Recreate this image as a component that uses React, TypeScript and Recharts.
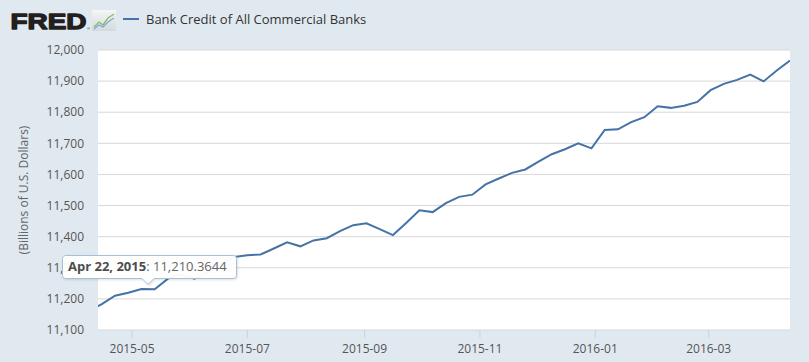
import React from 'react';
import { LineChart, Line, XAxis, YAxis, CartesianGrid, Tooltip } from 'recharts';

// weekly (Wednesday) observations, billions of U.S. dollars
const weekDates = [
  '2015-04-08', '2015-04-15', '2015-04-22', '2015-04-29', '2015-05-06', '2015-05-13',
  '2015-05-20', '2015-05-27', '2015-06-03', '2015-06-10', '2015-06-17', '2015-06-24',
  '2015-07-01', '2015-07-08', '2015-07-15', '2015-07-22', '2015-07-29', '2015-08-05',
  '2015-08-12', '2015-08-19', '2015-08-26', '2015-09-02', '2015-09-09', '2015-09-16',
  '2015-09-23', '2015-09-30', '2015-10-07', '2015-10-14', '2015-10-21', '2015-10-28',
  '2015-11-04', '2015-11-11', '2015-11-18', '2015-11-25', '2015-12-02', '2015-12-09',
  '2015-12-16', '2015-12-23', '2015-12-30', '2016-01-06', '2016-01-13', '2016-01-20',
  '2016-01-27', '2016-02-03', '2016-02-10', '2016-02-17', '2016-02-24', '2016-03-02',
  '2016-03-09', '2016-03-16', '2016-03-23', '2016-03-30', '2016-04-06', '2016-04-13',
];

const bankCredit = [
  11160, 11183, 11210.3644, 11220, 11232, 11231,
  11265, 11278, 11265, 11285, 11310, 11335,
  11340, 11343, 11362, 11382, 11369, 11388,
  11395, 11418, 11437, 11443, 11424, 11405,
  11444, 11485, 11479, 11508, 11528, 11535,
  11568, 11587, 11605, 11616, 11641, 11665,
  11681, 11700, 11684, 11743, 11745, 11768,
  11784, 11819, 11814, 11821, 11833, 11871,
  11891, 11904, 11921, 11899, 11934, 11966,
];

const xRange = ['2015-04-13', '2016-04-13'];
const xTickMonths = ['2015-05', '2015-07', '2015-09', '2015-11', '2016-01', '2016-03'];
const yTicks = [11100, 11200, 11300, 11400, 11500, 11600, 11700, 11800, 11900, 12000];

const hoverDate = '2015-04-22';

const MONTHS = ['Jan', 'Feb', 'Mar', 'Apr', 'May', 'Jun', 'Jul', 'Aug', 'Sep', 'Oct', 'Nov', 'Dec'];

const toTime = (s: string) => {
  const [y, m, d] = s.split('-').map(Number);
  return Date.UTC(y, m - 1, d || 1);
};

const data = weekDates.map((d, i) => ({ t: toTime(d), value: bankCredit[i] }));
const tipIndex = weekDates.indexOf(hoverDate);

const fmtMonth = (t: number) => {
  const d = new Date(t);
  return `${d.getUTCFullYear()}-${String(d.getUTCMonth() + 1).padStart(2, '0')}`;
};

const fmtDay = (t: number) => {
  const d = new Date(t);
  return `${MONTHS[d.getUTCMonth()]} ${d.getUTCDate()}, ${d.getUTCFullYear()}`;
};

const FONT = '"Open Sans", Arial, sans-serif';
const BG = '#e1e9f0';
const SERIES = '#4572a7';

const TipBox = (props: any) => {
  const p = props.payload && props.payload.length ? props.payload[0].payload : data[tipIndex];
  const val = p.value.toLocaleString('en-US', { minimumFractionDigits: 4, maximumFractionDigits: 4 });
  return (
    <svg width={178} height={34} style={{ overflow: 'visible', display: 'block' }}>
      <path
        d="M3.5 0.5 H171.5 Q174.5 0.5 174.5 3.5 V20.5 Q174.5 23.5 171.5 23.5 H92 L86 29.5 L80 23.5 H3.5 Q0.5 23.5 0.5 20.5 V3.5 Q0.5 0.5 3.5 0.5 Z"
        fill="rgba(255,255,255,0.96)"
        stroke="#a9bfd8"
        strokeWidth={1}
        style={{ filter: 'drop-shadow(1px 1px 1px rgba(0,0,0,0.12))' }}
      />
      <text x={6} y={16} fontFamily={FONT} fontSize={13}>
        <tspan fontWeight={700} fill="#4d4d4d">{fmtDay(p.t)}</tspan>
        <tspan fill="#666">: {val}</tspan>
      </text>
    </svg>
  );
};

export default function App() {
  return (
    <div style={{ position: 'relative', width: 809, height: 362, background: BG, fontFamily: FONT }}>
      <style>{'body{margin:0}'}</style>
      <svg width={809} height={44} style={{ position: 'absolute', left: 0, top: 0 }}>
        <defs>
          <linearGradient id="icon-bg" x1="0" y1="0" x2="0" y2="1">
            <stop offset="0" stopColor="#f4f6f7" />
            <stop offset="1" stopColor="#d3d9dd" />
          </linearGradient>
        </defs>
        <text
          x={10.5}
          y={28.5}
          fontFamily='"Liberation Sans", Arial, sans-serif'
          fontWeight={700}
          fontSize={22}
          textLength={76}
          lengthAdjust="spacingAndGlyphs"
          fill="#231f20"
          stroke="#231f20"
          strokeWidth={1.3}
          strokeLinejoin="round"
        >
          FRED
        </text>
        <text x={87} y={30} fontSize={4} fontFamily="Arial" fill="#231f20">®</text>
        <rect x={92} y={10} width={24} height={21} fill="url(#icon-bg)" />
        <polyline points="94,27 99,22 103,25 108,18 114,14" fill="none" stroke="#8dbb5c" strokeWidth={1.3} />
        <polyline points="94,29 99,25 103,27 108,22 114,18" fill="none" stroke="#7aa6d6" strokeWidth={1.1} />
        <line x1={123} y1={19} x2={139} y2={19} stroke={SERIES} strokeWidth={2} />
        <text x={146} y={24} fontFamily={FONT} fontSize={13} fill="#333">
          Bank Credit of All Commercial Banks
        </text>
      </svg>
      <LineChart
        width={809}
        height={362}
        data={data}
        margin={{ top: 50, right: 19, bottom: 0, left: 0 }}
        style={{ position: 'absolute', left: 0, top: 0 }}
      >
        <CartesianGrid vertical={false} stroke="#d8d8d8" fill="#ffffff" />
        <XAxis
          dataKey="t"
          type="number"
          scale="time"
          domain={[toTime(xRange[0]), toTime(xRange[1])]}
          allowDataOverflow
          ticks={xTickMonths.map(toTime)}
          tickFormatter={fmtMonth}
          axisLine={false}
          tickLine={{ stroke: '#c8d2dc' }}
          tickSize={8}
          tickMargin={6}
          height={32}
          tick={{ fill: '#555', fontSize: 12, fontFamily: FONT }}
        />
        <YAxis
          type="number"
          domain={[11100, 12000]}
          ticks={yTicks}
          allowDataOverflow
          tickFormatter={(v: number) => v.toLocaleString('en-US')}
          axisLine={false}
          tickLine={false}
          tickSize={6}
          tickMargin={8}
          width={98}
          tick={{ fill: '#555', fontSize: 12, fontFamily: FONT }}
          label={{
            value: '(Billions of U.S. Dollars)',
            angle: -90,
            position: 'insideLeft',
            offset: 24,
            style: { textAnchor: 'middle', fill: '#666', fontSize: 12, fontFamily: FONT },
          }}
        />
        <Line
          type="linear"
          dataKey="value"
          stroke={SERIES}
          strokeWidth={2}
          dot={false}
          activeDot={false}
          isAnimationActive={false}
        />
        <Tooltip
          active
          defaultIndex={tipIndex}
          cursor={false}
          position={{ x: 62, y: 255 }}
          isAnimationActive={false}
          content={<TipBox />}
          wrapperStyle={{ outline: 'none' }}
        />
      </LineChart>
    </div>
  );
}
